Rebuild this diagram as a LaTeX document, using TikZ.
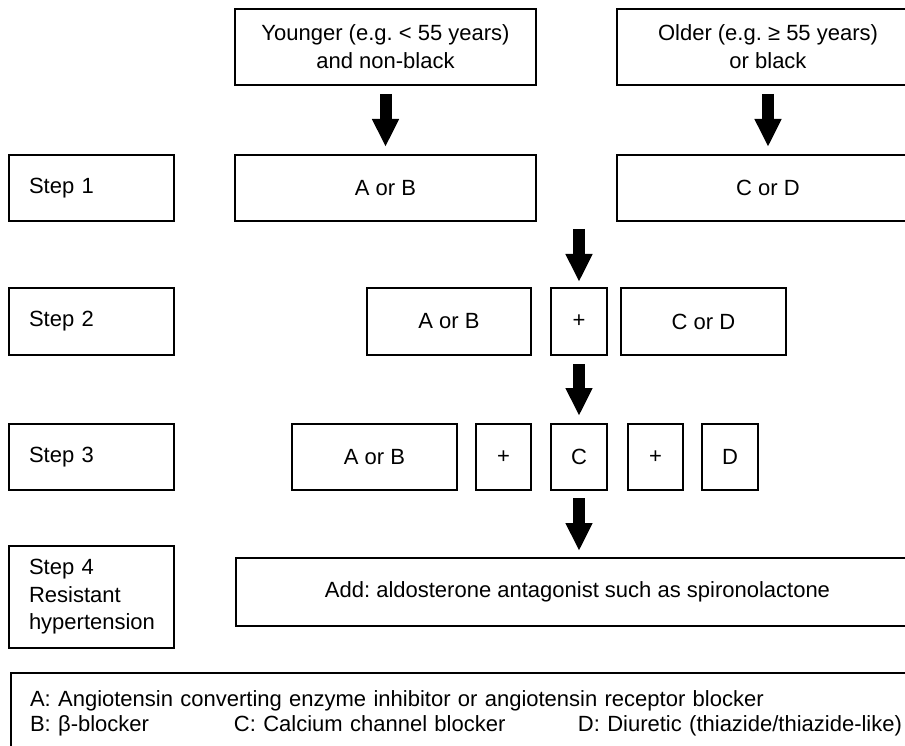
\documentclass[tikz,border=0pt]{standalone}
\usepackage{fontspec}
\setmainfont{Liberation Sans}
\usetikzlibrary{arrows.meta}
\frenchspacing

\begin{document}
\begin{tikzpicture}[x=1pt, y=-1pt, font=\fontsize{22}{28}\selectfont,
  box/.style={draw, line width=2pt, minimum height=66pt, inner sep=0pt, align=center},
  stepbox/.style={box, minimum width=0pt, text width=125pt, inner xsep=20pt, align=left},
  bigarrow/.style={line width=12pt, -{Triangle[width=25pt, length=28pt]}}]
\useasboundingbox (0,0) rectangle (905,746);
\node[box, minimum width=301pt, minimum height=76pt] (young) at (385.5,47) {Younger (e.g. < 55 years)\\and non-black};
\node[box, minimum width=302pt, minimum height=76pt] (old) at (768,47) {Older (e.g. ≥ 55 years)\\or black};

\node[stepbox] (step1) at (91.5,188) {Step 1};
\node[box, minimum width=301pt] (ab1) at (385.5,188) {A or B};
\node[box, minimum width=302pt] (cd1) at (768,188) {C or D};

\node[stepbox, minimum height=67pt] (step2) at (91.5,321.5) {Step 2};
\node[box, minimum width=164pt, minimum height=67pt] (ab2) at (449,321.5) {A or B};
\node[box, minimum width=56pt, minimum height=67pt] (plus2) at (579,321.5) {+};
\node[box, minimum width=165pt, minimum height=67pt] (cd2) at (703.5,321.5) {C or D};

\node[stepbox] (step3) at (91.5,457) {Step 3};
\node[box, minimum width=165pt] (ab3) at (374.5,457) {A or B};
\node[box, minimum width=55pt] (plusa3) at (503.5,457) {+};
\node[box, minimum width=56pt] (c3) at (579,457) {C};
\node[box, minimum width=55pt] (plusb3) at (655.5,457) {+};
\node[box, minimum width=56pt] (d3) at (730,457) {D};

\node[stepbox, minimum height=102pt, font=\fontsize{22}{27.5}\selectfont] (step4) at (91.5,597) {Step 4\\Resistant\\hypertension};
\node[box, minimum width=683pt, minimum height=68pt] (add) at (577.5,592) {Add: aldosterone antagonist such as spironolactone};

\node[box, anchor=north west, minimum height=81pt, text width=912pt, inner xsep=19pt, align=left, font=\fontsize{22}{25}\selectfont] (legend) at (10,672)
  {A: Angiotensin converting enzyme inhibitor or angiotensin receptor blocker\\
   \makebox[204pt][l]{B: β-blocker}\makebox[344pt][l]{C: Calcium channel blocker}D: Diuretic (thiazide/thiazide-like)};

\draw[bigarrow, shorten <=8pt, shorten >=7pt] (young.south) -- (ab1.north);
\draw[bigarrow, shorten <=8pt, shorten >=7pt] (old.south) -- (cd1.north);
\draw[bigarrow, shorten <=7pt, shorten >=5pt] (plus2.north |- ab1.south) -- (plus2.north);
\draw[bigarrow, shorten <=8pt, shorten >=7pt] (plus2.south) -- (c3.north);
\draw[bigarrow, shorten <=7pt, shorten >=6pt] (c3.south) -- (c3.south |- add.north);
\end{tikzpicture}
\end{document}
